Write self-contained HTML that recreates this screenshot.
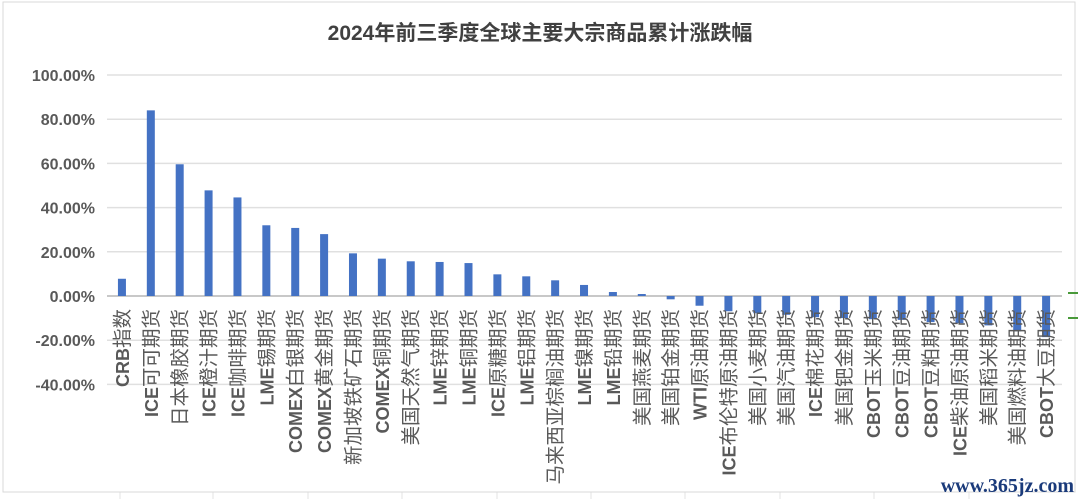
<!DOCTYPE html>
<html><head><meta charset="utf-8"><style>
body{margin:0;background:#fff;}
svg{display:block;font-family:"Liberation Sans","Noto Sans CJK SC",sans-serif;}
</style></head><body>
<svg id="chart" width="1080" height="499">
<rect x="0" y="0" width="1080" height="499" fill="#fff"/>
<g stroke="#e3e3e3" stroke-width="1">
<line x1="120" y1="492" x2="120" y2="499"/><line x1="213" y1="492" x2="213" y2="499"/><line x1="308" y1="492" x2="308" y2="499"/><line x1="402" y1="492" x2="402" y2="499"/><line x1="497" y1="492" x2="497" y2="499"/><line x1="591" y1="492" x2="591" y2="499"/><line x1="685" y1="492" x2="685" y2="499"/><line x1="780" y1="492" x2="780" y2="499"/><line x1="874" y1="492" x2="874" y2="499"/><line x1="969" y1="492" x2="969" y2="499"/>
</g>
<rect x="3" y="2" width="1072" height="490" fill="none" stroke="#d9d9d9"/>
<text x="540" y="40" text-anchor="middle" font-size="21" font-weight="bold" fill="#404040">2024年前三季度全球主要大宗商品累计涨跌幅</text>
<g id="grid"></g><g id="bars"></g><g id="xlabels"></g><g id="ylabels"></g>
<line x1="1068" y1="293" x2="1078" y2="293" stroke="#4a9a3a" stroke-width="2"/>
<line x1="1068" y1="318" x2="1078" y2="318" stroke="#4a9a3a" stroke-width="2"/>
<text x="1074" y="492" text-anchor="end" font-family="Liberation Serif,serif" font-size="20" font-weight="bold" fill="#1a3a7a">www.365jz.com</text>
</svg>
<script>
const categories=["CRB指数","ICE可可期货","日本橡胶期货","ICE橙汁期货","ICE咖啡期货","LME锡期货","COMEX白银期货","COMEX黄金期货","新加坡铁矿石期货","COMEX铜期货","美国天然气期货","LME锌期货","LME铜期货","ICE原糖期货","LME铝期货","马来西亚棕榈油期货","LME镍期货","LME铅期货","美国燕麦期货","美国铂金期货","WTI原油期货","ICE布伦特原油期货","美国小麦期货","美国汽油期货","ICE棉花期货","美国钯金期货","CBOT玉米期货","CBOT豆油期货","CBOT豆粕期货","ICE柴油原油期货","美国稻米期货","美国燃料油期货","CBOT大豆期货"];
const values=[7.8,84,59.6,47.8,44.6,32,30.8,28,19.3,16.9,15.7,15.4,14.9,9.8,8.9,7.1,5.0,1.8,0.9,-1.5,-4.4,-6.9,-7.8,-8.5,-9.6,-10,-10.5,-10.8,-11.8,-12.3,-13.3,-16,-18.6];
const ticks=[100,80,60,40,20,0,-20,-40];
const NS="http://www.w3.org/2000/svg";
const y0=296,ppp=2.21,xStart=107.5,step=28.88,bw=8;
const Y=v=>y0-v*ppp, X=i=>xStart+step*(i+0.5);
function mk(t,a,p){const e=document.createElementNS(NS,t);for(const k in a)e.setAttribute(k,a[k]);document.getElementById(p).appendChild(e);return e;}
ticks.forEach(t=>{
 const l=mk('line',{x1:107,x2:1062,y1:Y(t),y2:Y(t),stroke:t===0?'#c8c8c8':'#e0e0e0','stroke-width':t===0?2:1.5},'grid');
 
 
 const tx=mk('text',{x:95,y:Y(t)+6,'text-anchor':'end','font-size':16,'font-weight':'bold',fill:'#595959'},'ylabels');
 tx.textContent=t.toFixed(2)+'%';
 
 
});
values.forEach((v,i)=>{
 const r=mk('rect',{x:X(i)-bw/2,y:Math.min(Y(v),y0),width:bw,height:Math.abs(Y(v)-y0),fill:'#4472c4'},'bars');
 
 
});
categories.forEach((c,i)=>{
 const x=X(i)+7;
 const t=mk('text',{transform:`translate(${x},309) rotate(-90)`,'text-anchor':'end','font-size':19.5,fill:'#595959'},'xlabels');
 const m=c.match(/^[A-Z]+/);
 if(m){const s=document.createElementNS(NS,'tspan');s.setAttribute('font-weight','bold');s.setAttribute('font-size','18');s.textContent=m[0];t.appendChild(s);
 const s2=document.createElementNS(NS,'tspan');s2.textContent=c.slice(m[0].length);t.appendChild(s2);}
 else t.textContent=c;
 
 
});
</script>
</body></html>
